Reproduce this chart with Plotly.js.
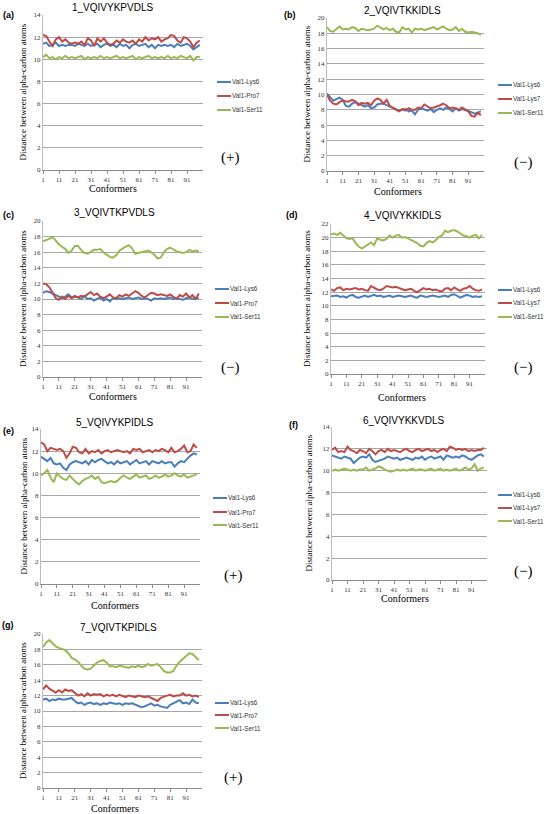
<!DOCTYPE html>
<html>
<head>
<meta charset="utf-8">
<script src="https://cdn.plot.ly/plotly-3.0.1.min.js"></script>
<style>html,body{margin:0;padding:0;background:#fff;}#chart{width:547px;height:814px;}</style>
</head>
<body>
<div id="chart"></div>
<script>
// ---------- DATA ----------
const conformers = [1,3,5,7,9,11,13,15,17,19,21,23,25,27,29,31,33,35,37,39,41,43,45,47,49,
  51,53,55,57,59,61,63,65,67,69,71,73,75,77,79,81,83,85,87,89,91,93,95,97,99];
const tickVals = [1,11,21,31,41,51,61,71,81,91];
const tickLabels = ['1','11','21','31','41','51','61','71','81','91'];

const panelTitles = ['1_VQIVYKPVDLS','2_VQIVTKKIDLS','3_VQIVTKPVDLS','4_VQIVYKKIDLS','5_VQIVYKPIDLS','6_VQIVYKKVDLS','7_VQIVTKPIDLS'];
const panelLabels = ['(a)','(b)','(c)','(d)','(e)','(f)','(g)'];
const panelSigns = ['(+)','(\u2212)','(\u2212)','(\u2212)','(+)','(\u2212)','(+)'];
const namesPro = ['Val1-Lys6','Val1-Pro7','Val1-Ser11'];
const namesLys = ['Val1-Lys6','Val1-Lys7','Val1-Ser11'];
const yMax = [14,20,20,22,14,14,20];

const a_lys6 = [11.4,11.5,11.2,11.3,11.5,11.2,11.3,11.2,11.3,11.3,11.2,11.4,11.3,11.2,11.4,11.2,11.3,11.4,11.1,11.3,
 11.4,11.2,11.3,11.1,11.4,11.2,11.3,11.0,11.3,11.4,11.2,11.3,11.4,11.1,11.3,11.0,11.3,11.2,11.3,11.2,
 11.3,11.1,11.4,11.2,11.3,11.4,11.2,10.9,11.1,11.3];
const a_pro7 = [12.2,12.1,11.6,11.2,11.8,12.0,11.6,11.8,11.5,11.4,11.5,11.4,11.6,11.3,11.9,11.7,11.2,11.9,11.6,11.9,
 11.5,11.3,11.4,11.7,11.5,11.8,11.6,11.5,11.7,11.4,11.8,11.6,12.0,11.7,11.9,11.8,12.0,11.6,11.8,11.9,
 12.2,12.1,11.7,11.5,12.0,11.9,11.6,11.1,11.5,11.7];
const a_ser11 = [10.2,10.4,10.1,10.2,10.0,10.2,10.1,10.3,10.1,10.2,10.1,10.2,10.3,10.0,10.2,10.1,10.2,10.1,10.3,10.1,
 10.2,10.1,10.2,10.3,10.1,10.2,10.1,10.2,10.3,10.0,10.2,10.1,10.2,10.3,10.1,10.2,10.1,10.2,10.1,10.3,
 10.1,10.2,10.1,10.3,10.2,10.1,10.3,9.9,10.2,10.2];

const b_lys6 = [10.1,9.6,9.2,9.4,9.6,9.3,8.5,8.4,8.8,9.0,8.8,8.5,8.4,8.6,8.2,8.3,8.7,8.8,8.8,8.6,
 8.4,8.2,8.0,7.9,8.0,8.1,7.8,7.9,7.4,8.0,8.2,8.1,7.9,8.1,7.7,8.0,8.2,8.0,8.3,8.1,
 7.8,8.2,7.9,8.1,8.0,7.9,7.7,7.5,7.6,7.8];
const b_lys7 = [10.0,9.2,8.8,8.7,9.0,9.2,9.1,9.1,9.3,9.1,8.6,8.9,8.8,8.9,8.6,9.2,9.5,9.3,8.8,9.3,
 8.5,8.2,8.0,7.8,8.1,7.9,8.2,8.0,8.0,8.3,8.2,8.7,8.5,8.2,8.3,8.4,8.6,8.8,8.6,8.2,
 8.3,8.2,8.0,8.3,8.1,7.8,7.2,7.1,7.6,7.3];
const b_ser11 = [18.8,18.3,18.2,18.6,18.9,18.5,18.6,18.5,18.8,18.7,18.3,18.6,18.5,18.4,18.5,18.6,19.0,18.7,18.5,18.7,
 18.4,18.6,18.2,18.1,18.8,18.5,18.6,18.1,18.6,18.5,18.6,18.4,18.5,18.6,18.8,18.5,18.7,18.9,18.6,18.4,
 18.5,18.8,18.3,18.6,18.2,18.1,18.2,18.1,18.0,17.8];

const c_lys6 = [10.8,11.0,10.9,10.7,10.4,10.2,10.1,10.3,10.6,10.2,10.4,10.2,10.0,10.4,10.0,10.1,9.8,10.0,10.2,9.8,
 10.0,9.7,10.1,10.0,10.1,10.0,10.1,10.2,10.0,10.1,10.2,10.0,10.1,10.0,9.8,10.1,10.0,10.1,10.0,10.1,
 10.2,10.0,10.1,10.0,9.9,10.1,10.2,10.0,10.1,10.1];
const c_pro7 = [12.0,11.9,11.5,10.8,10.1,9.9,10.3,10.0,10.4,10.1,10.3,10.2,10.4,10.3,10.6,10.9,10.5,10.7,10.3,10.1,
 10.3,10.6,10.2,10.1,10.5,10.3,10.6,10.4,10.7,11.0,10.8,10.4,10.2,10.5,10.8,10.7,10.5,10.6,10.5,10.4,
 10.6,10.3,10.0,10.5,10.3,10.7,10.2,10.5,10.0,10.7];
const c_ser11 = [17.4,17.6,17.8,17.9,17.5,17.0,16.7,16.4,15.9,16.2,16.8,16.8,16.3,15.9,15.8,16.0,16.3,16.3,16.4,16.0,
 15.7,15.4,15.3,15.6,16.2,16.5,16.7,16.9,16.5,15.8,15.9,16.0,16.1,16.2,16.0,15.7,15.2,15.3,16.0,16.4,
 16.6,16.3,16.1,16.0,15.9,16.0,16.3,16.1,16.2,16.1];

const d_lys6 = [11.4,11.4,11.5,11.3,11.4,11.2,11.5,11.6,11.3,11.2,11.4,11.5,11.3,11.4,11.6,11.4,11.5,11.3,11.4,11.5,
 11.3,11.4,11.5,11.4,11.3,11.4,11.5,11.3,11.2,11.5,11.4,11.3,11.4,11.5,11.4,11.3,11.4,11.5,11.3,11.6,
 11.7,11.4,11.2,11.4,11.6,11.5,11.3,11.4,11.3,11.4];
const d_lys7 = [12.4,12.2,12.6,12.7,12.3,12.5,12.4,12.5,12.6,12.4,12.5,12.3,12.2,12.9,12.6,12.4,12.3,12.5,12.9,12.8,
 12.7,12.8,12.6,12.5,12.3,12.4,12.5,12.2,12.0,12.3,12.6,12.4,12.5,12.3,12.4,12.2,12.1,12.5,12.6,12.3,
 12.7,12.4,12.2,12.5,12.6,12.9,12.5,12.3,12.2,12.4];
const d_ser11 = [20.5,20.6,20.4,20.7,20.3,19.9,19.8,19.9,19.2,18.7,18.4,18.7,19.0,19.3,18.9,19.9,19.7,19.6,19.8,20.3,
 20.0,20.3,20.4,20.0,20.1,19.9,19.6,19.5,19.2,18.8,18.7,19.2,19.5,19.3,19.6,20.1,20.3,21.0,20.8,21.0,
 21.1,20.9,20.6,20.3,20.2,20.0,20.3,20.4,19.9,20.4];

const e_lys6 = [11.5,11.3,11.1,11.4,10.9,10.8,10.9,10.5,10.3,10.8,11.0,11.1,11.0,10.9,11.1,10.8,11.2,11.0,11.2,11.3,
 11.1,10.9,11.0,10.8,11.1,10.9,11.0,11.1,10.8,11.0,11.2,10.9,11.0,11.1,10.8,11.1,11.0,10.9,11.1,10.9,
 11.0,11.0,10.6,10.9,11.1,11.0,11.3,11.6,11.8,11.7];
const e_pro7 = [12.8,12.6,12.0,12.3,12.2,12.1,12.2,12.0,11.4,11.8,12.4,12.3,11.9,11.8,12.2,11.8,12.0,11.9,12.1,11.8,
 12.0,12.1,11.9,12.0,12.1,12.0,11.9,12.0,11.8,12.2,12.1,12.2,11.9,12.0,12.1,11.9,12.1,12.0,12.2,12.1,
 11.9,12.3,11.9,12.0,12.2,12.5,11.9,12.0,12.6,12.3];
const e_ser11 = [9.8,10.0,10.3,9.6,9.2,10.0,9.7,9.5,9.4,9.8,9.5,9.2,9.0,9.3,9.5,9.6,9.8,9.5,9.7,9.2,
 9.1,9.2,9.3,9.2,9.3,9.6,9.8,9.6,9.5,9.7,9.9,9.6,9.7,9.8,9.5,9.6,9.8,9.6,9.7,9.9,
 9.7,9.8,10.0,9.8,9.7,9.9,9.6,9.7,9.8,9.9];

const f_lys6 = [11.4,11.3,11.2,11.1,11.3,11.2,11.1,10.7,11.0,11.2,11.3,11.2,11.5,11.0,10.8,10.9,11.0,11.1,11.3,11.2,
 11.1,11.2,11.0,11.1,11.2,11.1,11.0,11.2,11.1,11.3,11.0,11.2,11.3,11.1,11.2,11.3,11.0,11.4,11.3,11.2,
 11.3,11.2,11.4,11.3,11.1,11.0,11.2,11.4,11.5,11.3];
const f_lys7 = [11.9,12.1,11.7,11.8,11.7,12.2,11.9,11.8,11.6,11.9,11.8,11.6,12.0,11.8,11.5,11.8,11.9,11.7,12.0,11.8,
 11.9,11.8,11.7,11.9,12.0,11.8,11.7,11.9,12.0,11.8,11.9,12.0,11.8,11.9,11.7,11.9,12.0,11.8,12.2,12.1,
 11.9,12.0,11.9,12.0,11.8,11.9,11.8,11.9,11.9,12.1];
const f_ser11 = [10.0,10.1,10.0,10.1,10.2,10.1,10.0,10.1,10.0,10.1,10.1,10.3,10.0,10.1,10.2,10.4,10.3,10.1,10.0,9.9,
 10.0,10.1,10.0,10.1,10.0,10.1,10.2,10.0,10.1,10.1,10.0,10.1,10.2,10.0,10.1,10.2,10.0,10.1,10.0,10.1,
 10.2,10.0,10.1,10.3,10.1,10.2,10.6,10.0,10.2,10.3];

const g_lys6 = [11.5,11.6,11.3,11.5,11.4,11.6,11.5,11.5,11.6,11.7,11.3,11.0,11.1,10.8,11.0,11.1,10.9,11.0,10.8,11.0,
 10.9,11.1,11.0,10.9,11.0,10.8,11.0,10.9,11.0,10.8,10.6,10.5,10.6,10.8,11.0,10.7,10.8,10.6,10.5,10.4,
 10.8,11.0,11.1,11.4,11.0,11.1,10.9,11.5,11.1,11.0];
const g_pro7 = [12.8,13.3,12.9,12.6,12.4,12.7,12.4,12.8,12.6,12.7,12.3,12.0,12.2,11.9,12.3,12.0,12.2,12.1,12.2,11.9,
 12.1,12.0,12.1,11.9,12.1,12.0,11.8,12.0,11.9,11.8,12.0,11.9,11.8,11.9,11.7,11.6,11.3,11.7,11.9,12.0,
 12.1,11.9,12.0,12.0,12.3,12.0,12.1,11.9,12.0,11.8];
const g_ser11 = [18.3,18.9,19.2,18.8,18.4,18.2,18.0,17.9,17.5,16.9,16.7,16.4,15.9,15.5,15.4,15.5,15.9,16.3,16.5,16.6,
 16.3,15.8,15.8,15.7,15.9,15.8,15.7,15.6,15.8,15.7,15.9,15.7,15.8,16.1,15.9,16.0,16.1,15.7,15.2,15.0,
 15.0,15.2,15.9,16.4,16.8,17.2,17.5,17.4,17.0,16.6];

// ---------- STYLE / LAYOUT ----------
const W = 547, H = 814;
const colors = ['#4a7ebb', '#be4b48', '#98b954'];
const px = v => v / W;
const py = v => 1 - v / H;

const panels = [
  {series:[a_lys6,a_pro7,a_ser11], names:namesPro, L:43, R:203, T:15, B:170, tX:112, tY:7, lX:8, lY:15, gX:217, gY:[82,96,110], sX:230, sY:157, xtY:188, xtX:113, ytX:22},
  {series:[b_lys6,b_lys7,b_ser11], names:namesLys, L:327, R:484, T:18, B:171, tX:402, tY:11, lX:290, lY:15, gX:498, gY:[85,99,113], sX:523, sY:162, xtY:191, xtX:398, ytX:307},
  {series:[c_lys6,c_pro7,c_ser11], names:namesPro, L:43, R:202, T:221, B:377, tX:114, tY:213, lX:8, lY:215, gX:215, gY:[289,303,317], sX:230, sY:368, xtY:396, xtX:113, ytX:23},
  {series:[d_lys6,d_lys7,d_ser11], names:namesLys, L:331, R:485, T:224, B:374, tX:403, tY:215, lX:292, lY:215, gX:498, gY:[290,303,317], sX:523, sY:367, xtY:397, xtX:402, ytX:307},
  {series:[e_lys6,e_pro7,e_ser11], names:namesPro, L:41, R:200, T:429, B:584, tX:115, tY:422, lX:8, lY:431, gX:213, gY:[498,512,525], sX:233, sY:575, xtY:605, xtX:115, ytX:23},
  {series:[f_lys6,f_lys7,f_ser11], names:namesLys, L:332, R:487, T:427, B:580, tX:403, tY:420, lX:293, lY:425, gX:498, gY:[495,508,521], sX:523, sY:571, xtY:598, xtX:405, ytX:308},
  {series:[g_lys6,g_pro7,g_ser11], names:namesPro, L:43, R:202, T:634, B:788, tX:118, tY:627, lX:8, lY:625, gX:215, gY:[703,715,728], sX:233, sY:777, xtY:808, xtX:115, ytX:23}
];

const traces = [];
const layout = {
  width: W, height: H,
  margin: {l:0, r:0, t:0, b:0},
  paper_bgcolor: '#ffffff', plot_bgcolor: '#ffffff',
  showlegend: false,
  annotations: [], shapes: []
};
const serif = 'Liberation Serif, Times New Roman, serif';
const sans = 'Liberation Sans, Arial, sans-serif';

panels.forEach((p, i) => {
  const k = i === 0 ? '' : String(i + 1);
  const xa = 'x' + k, ya = 'y' + k;
  p.series.forEach((s, j) => {
    traces.push({
      type: 'scatter', mode: 'lines', x: conformers, y: s, name: p.names[j],
      xaxis: xa, yaxis: ya, line: {color: colors[j], width: 2}, hoverinfo: 'skip'
    });
  });
  layout['xaxis' + k] = {
    domain: [px(p.L), px(p.R)], anchor: ya, range: [1, 101],
    tickmode: 'array', tickvals: tickVals, ticktext: tickLabels,
    ticks: 'outside', ticklen: 3, tickcolor: '#8c8c8c', tickwidth: 1,
    showgrid: false, zeroline: false, showline: true, linecolor: '#8c8c8c', linewidth: 1,
    tickfont: {family: serif, size: 7, color: '#333'}, fixedrange: true
  };
  layout['yaxis' + k] = {
    domain: [py(p.B), py(p.T)], anchor: xa, range: [0, yMax[i]], dtick: 2,
    showgrid: true, gridcolor: '#a6a6a6', gridwidth: 1, zeroline: false,
    showline: true, linecolor: '#bdbdbd', linewidth: 1, ticks: '',
    tickfont: {family: serif, size: 7, color: '#333'}, fixedrange: true
  };
  const A = layout.annotations;
  A.push({text: panelTitles[i], x: px(p.tX), y: py(p.tY), xref: 'paper', yref: 'paper', showarrow: false,
    xanchor: 'center', yanchor: 'middle', font: {family: sans, size: 10, color: '#000'}});
  A.push({text: '<b>' + panelLabels[i] + '</b>', x: px(p.lX), y: py(p.lY), xref: 'paper', yref: 'paper', showarrow: false,
    xanchor: 'center', yanchor: 'middle', font: {family: sans, size: 9, color: '#000'}});
  A.push({text: panelSigns[i], x: px(p.sX), y: py(p.sY), xref: 'paper', yref: 'paper', showarrow: false,
    xanchor: 'center', yanchor: 'middle', font: {family: serif, size: 15, color: '#000'}});
  A.push({text: 'Conformers', x: px(p.xtX), y: py(p.xtY), xref: 'paper', yref: 'paper', showarrow: false,
    xanchor: 'center', yanchor: 'middle', font: {family: serif, size: 10, color: '#000'}});
  A.push({text: 'Distance between alpha-carbon atoms', x: px(p.ytX), y: py((p.T + p.B) / 2), xref: 'paper', yref: 'paper',
    showarrow: false, textangle: -90, xanchor: 'center', yanchor: 'middle', font: {family: serif, size: 9, color: '#000'}});
  // legend keys built from trace names/colours
  p.names.forEach((nm, j) => {
    layout.shapes.push({type: 'line', xref: 'paper', yref: 'paper', x0: px(p.gX), x1: px(p.gX + 14),
      y0: py(p.gY[j]), y1: py(p.gY[j]), line: {color: colors[j], width: 2}});
    A.push({text: nm, x: px(p.gX + 14), y: py(p.gY[j]), xref: 'paper', yref: 'paper', showarrow: false,
      xanchor: 'left', yanchor: 'middle', borderpad: 0, font: {family: sans, size: 6.3, color: '#333'}});
  });
});

Plotly.newPlot('chart', traces, layout, {displayModeBar: false, staticPlot: true});
</script>
</body>
</html>
